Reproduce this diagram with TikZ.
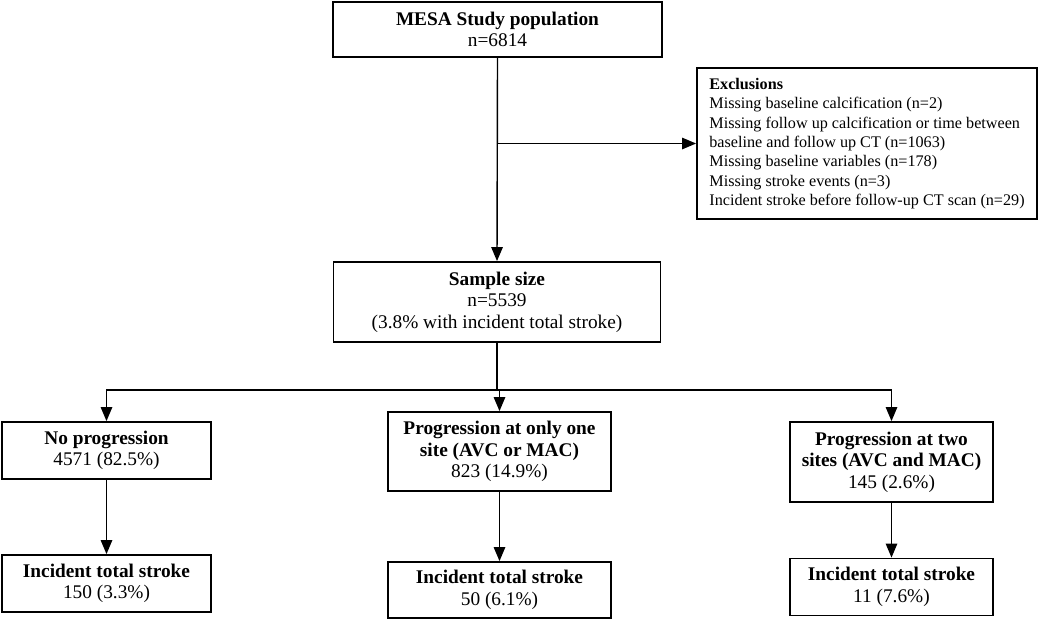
\documentclass[tikz,border=0pt]{standalone}
\usepackage{fontspec}
\setmainfont{Liberation Serif}
\usetikzlibrary{arrows}
\usetikzlibrary{calc}

\newcommand{\px}{0.02cm}
\tikzset{
  box/.style={draw,line width=1.1pt,align=center,inner sep=2pt,font=\fontsize{11}{12.2}\selectfont},
  arr/.style={-triangle 45,line width=0.8pt}
}

\begin{document}
\begin{tikzpicture}[x=0.02cm,y=-0.02cm]
		\useasboundingbox (0,0) rectangle (1041,620);
		\node[box,minimum width=329*\px,minimum height=55*\px] (pop) at (497.5,29.5) {\textbf{MESA Study population}\\n=6814};
		\node[box,minimum width=340*\px,minimum height=151*\px,align=left,inner sep=10*\px,font=\fontsize{9.2}{11}\selectfont] (excl) at (867,143.5) {\textbf{Exclusions}\\
		Missing baseline calcification (n=2)\\
		Missing follow up calcification or time between\\
		baseline and follow up CT (n=1063)\\
		Missing baseline variables (n=178)\\
		Missing stroke events (n=3)\\
		Incident stroke before follow-up CT scan (n=29)};
		\node[box,minimum width=327*\px,minimum height=80*\px] (sample) at (497,302) {\textbf{Sample size}\\n=5539\\(3.8\% with incident total stroke)};
		\node[box,minimum width=209*\px,minimum height=57*\px] (noprog) at (106.5,450.5) {\textbf{No progression}\\4571 (82.5\%)};
		\node[box,minimum width=223*\px,minimum height=79*\px] (onesite) at (499.5,451.5) {\textbf{Progression at only one}\\\textbf{site (AVC or MAC)}\\823 (14.9\%)};
		\node[box,minimum width=203*\px,minimum height=80*\px] (twosite) at (891.5,462) {\textbf{Progression at two}\\\textbf{sites (AVC and MAC)}\\145 (2.6\%)};
		\node[box,minimum width=209*\px,minimum height=57*\px] (strokeA) at (106.5,583.5) {\textbf{Incident total stroke}\\150 (3.3\%)};
		\node[box,minimum width=223*\px,minimum height=56*\px] (strokeB) at (499.5,590) {\textbf{Incident total stroke}\\50 (6.1\%)};
		\node[box,minimum width=203*\px,minimum height=57*\px] (strokeC) at (891.5,587) {\textbf{Incident total stroke}\\11 (7.6\%)};
		% flow
		\draw[arr] (pop.south) -- (sample.north);
		\coordinate (branch) at ($(pop.south)!0.5!(sample.north)$);
		\draw[arr] (branch|-excl.west) -- (excl.west);
		\coordinate (split) at (497,390);
		\draw[line width=0.8pt] (sample.south) -- (split);
		\draw[arr] (split) -| (noprog.north);
		\draw[arr] (split) -| (twosite.north);
		\draw[arr] (split) -- (split-|onesite.north) -- (onesite.north);
		\draw[arr] (noprog.south) -- (strokeA.north);
		\draw[arr] (onesite.south) -- (strokeB.north);
		\draw[arr] (twosite.south) -- (strokeC.north);
	\end{tikzpicture}
\end{document}
